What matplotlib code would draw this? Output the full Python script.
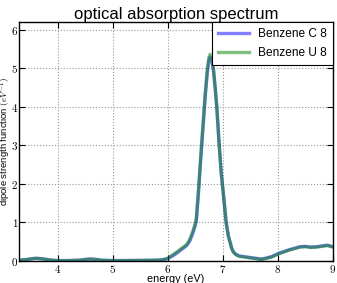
import matplotlib
matplotlib.use("Agg")
import matplotlib.pyplot as plt
from matplotlib.ticker import FuncFormatter, MultipleLocator

energy = [3.3, 3.4, 3.5, 3.6, 3.7, 3.8, 3.9, 4.0, 4.2, 4.4, 4.5, 4.6, 4.7, 4.8,
          5.0, 5.2, 5.5, 5.8, 5.9, 6.0, 6.05, 6.1, 6.15, 6.2, 6.25, 6.3, 6.35,
          6.4, 6.45, 6.5, 6.52, 6.56, 6.6, 6.64, 6.68, 6.72, 6.75, 6.77, 6.8,
          6.83, 6.86, 6.89, 6.93, 6.97, 7.02, 7.06, 7.1, 7.13, 7.16, 7.19, 7.24,
          7.3, 7.4, 7.5, 7.6, 7.7, 7.8, 7.9, 8.0, 8.1, 8.2, 8.3, 8.4, 8.5, 8.6,
          8.7, 8.8, 8.9, 9.0]

benzene_c = [0.02, 0.03, 0.05, 0.07, 0.06, 0.04, 0.02, 0.01, 0.01, 0.02, 0.04,
             0.05, 0.04, 0.02, 0.01, 0.01, 0.015, 0.02, 0.03, 0.06, 0.10, 0.14,
             0.19, 0.24, 0.30, 0.35, 0.41, 0.52, 0.70, 0.92, 1.05, 1.8, 2.65,
             3.45, 4.25, 4.92, 5.22, 5.29, 5.2, 4.95, 4.5, 4.0, 3.1, 2.3, 1.6,
             1.0, 0.65, 0.5, 0.34, 0.24, 0.17, 0.13, 0.11, 0.09, 0.07, 0.05, 0.08,
             0.12, 0.19, 0.24, 0.29, 0.33, 0.37, 0.38, 0.36, 0.37, 0.39, 0.41, 0.37]

benzene_u = [0.02, 0.03, 0.05, 0.07, 0.06, 0.04, 0.02, 0.01, 0.01, 0.02, 0.04,
             0.05, 0.04, 0.02, 0.01, 0.01, 0.015, 0.02, 0.03, 0.07, 0.12, 0.17,
             0.22, 0.27, 0.33, 0.38, 0.44, 0.56, 0.75, 0.98, 1.12, 1.9, 2.75,
             3.55, 4.35, 5.0, 5.3, 5.36, 5.25, 4.98, 4.52, 4.0, 3.1, 2.3, 1.6,
             1.0, 0.65, 0.49, 0.33, 0.23, 0.16, 0.12, 0.10, 0.08, 0.06, 0.04, 0.07,
             0.11, 0.18, 0.23, 0.28, 0.32, 0.36, 0.37, 0.35, 0.36, 0.38, 0.40, 0.36]

plt.rcParams['mathtext.fontset'] = 'cm'
plt.rcParams['font.family'] = ['Liberation Sans', 'DejaVu Sans']

fig = plt.figure(figsize=(3.37, 2.83), dpi=100)
ax = fig.add_axes([19/337, 1-261/283, (333-19)/337, (261-22)/283])

ax.plot(energy, benzene_c, color='#0000ff', alpha=0.5, lw=2.4, label='Benzene C 8')
ax.plot(energy, benzene_u, color='#008000', alpha=0.5, lw=2.4, label='Benzene U 8')

ax.set_xlim(3.3, 9.0)
ax.set_ylim(0, 6.2)
ax.xaxis.set_major_locator(MultipleLocator(1))
ax.yaxis.set_major_locator(MultipleLocator(1))
fmt = FuncFormatter(lambda v, p: r'$%d$' % round(v))
ax.xaxis.set_major_formatter(fmt)
ax.yaxis.set_major_formatter(fmt)
ax.tick_params(direction='in', labelsize=8, length=4, top=True, right=True)
ax.tick_params(axis='y', pad=0.5)
ax.tick_params(axis='x', pad=1.5)
ax.grid(True, linestyle=':', color='#999999', lw=0.8)
for s in ax.spines.values():
    s.set_linewidth(1.0)

ax.set_title('optical absorption spectrum', fontsize=12, pad=2)
ax.set_xlabel('energy (eV)', fontsize=7.8, labelpad=-0.5)
ax.set_ylabel(r'dipole strength function $(eV^{-1})$', fontsize=6.8)
ax.yaxis.set_label_coords(-0.02, 0.5)

leg = ax.legend(loc='upper right', fontsize=8.6, fancybox=False, framealpha=1,
                edgecolor='black', borderaxespad=0.0, handlelength=2.6,
                labelspacing=0.6, borderpad=0.5)
leg.get_frame().set_linewidth(0.8)
for line in leg.get_lines():
    line.set_linewidth(2.4)

fig.savefig('out.png', dpi=100)
